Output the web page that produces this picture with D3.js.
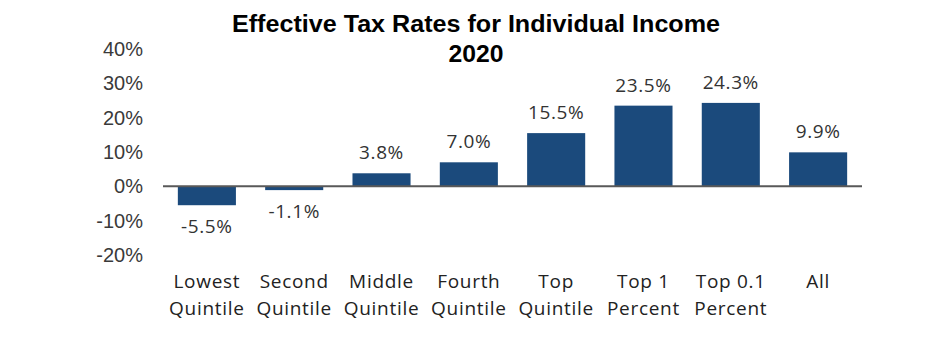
<!DOCTYPE html>
<html>
<head>
<meta charset="utf-8">
<script src="https://cdn.jsdelivr.net/npm/d3@7"></script>
<style>
  body { margin: 0; background: #fff; }
</style>
</head>
<body>
<div id="chart"></div>
<script>
const categories = [
  ["Lowest", "Quintile"], ["Second", "Quintile"], ["Middle", "Quintile"], ["Fourth", "Quintile"],
  ["Top", "Quintile"], ["Top 1", "Percent"], ["Top 0.1", "Percent"], ["All"]
];
const rates = [-5.5, -1.1, 3.8, 7.0, 15.5, 23.5, 24.3, 9.9];
const yTicks = [-20, -10, 0, 10, 20, 30, 40];
const titleLines = ["Effective Tax Rates for Individual Income", "2020"];
const titleWidths = [488, 55];

const width = 952, height = 351;
const barColor = "#1b4a7c";
const labelFont = "'Open Sans', Lato, sans-serif";

const svg = d3.select("#chart").append("svg")
  .attr("width", width)
  .attr("height", height);

// タイトル
svg.append("g").selectAll("text")
  .data(titleLines)
  .join("text")
  .attr("x", 476)
  .attr("y", (d, i) => 32 + i * 30)
  .attr("text-anchor", "middle")
  .attr("textLength", (d, i) => titleWidths[i])
  .attr("lengthAdjust", "spacingAndGlyphs")
  .style("font-family", "'Liberation Sans', Arial, sans-serif")
  .style("font-weight", "bold")
  .style("font-size", "23px")
  .attr("fill", "#000")
  .text(d => d);

// スケール
const keys = categories.map(c => c.join(" "));
const x = d3.scaleBand()
  .domain(keys)
  .range([163, 862])
  .paddingInner(0.335)
  .paddingOuter(0.17);

const y = d3.scaleLinear()
  .domain([-20, 40])
  .range([255, 49]);

// y軸（ラベルのみ）
const yAxis = d3.axisLeft(y)
  .tickValues(yTicks)
  .tickFormat(d => d + "%")
  .tickSize(0)
  .tickPadding(0);

svg.append("g")
  .attr("transform", "translate(143,0)")
  .call(yAxis)
  .call(g => g.select(".domain").remove())
  .selectAll("text")
  .style("font-family", "'Liberation Sans', Arial, sans-serif")
  .style("font-size", "20px")
  .attr("fill", "#3a3a3a");

// 棒
svg.append("g").selectAll("rect")
  .data(rates)
  .join("rect")
  .attr("x", (d, i) => x(keys[i]))
  .attr("width", x.bandwidth())
  .attr("y", d => y(Math.max(0, d)))
  .attr("height", d => Math.abs(y(d) - y(0)))
  .attr("fill", barColor);

// ゼロ線
svg.append("line")
  .attr("x1", x.range()[0])
  .attr("x2", x.range()[1])
  .attr("y1", y(0))
  .attr("y2", y(0))
  .attr("stroke", "#595959")
  .attr("stroke-width", 2);

// 値ラベル
svg.append("g").selectAll("text")
  .data(rates)
  .join("text")
  .attr("x", (d, i) => x(keys[i]) + x.bandwidth() / 2)
  .attr("y", d => d >= 0 ? y(d) - 14 : y(d) + 28)
  .attr("text-anchor", "middle")
  .style("font-family", labelFont)
  .style("font-size", "19px")
  .style("letter-spacing", "0.6px")
  .attr("fill", "#333")
  .text(d => d.toFixed(1) + "%");

// カテゴリラベル
const catG = svg.append("g").selectAll("text")
  .data(categories)
  .join("text")
  .attr("x", (d, i) => x(keys[i]) + x.bandwidth() / 2)
  .attr("y", 288)
  .attr("text-anchor", "middle")
  .style("font-family", labelFont)
  .style("font-size", "19px")
  .style("letter-spacing", "0.7px")
  .attr("fill", "#222");

catG.selectAll("tspan")
  .data(d => d)
  .join("tspan")
  .attr("x", function() { return d3.select(this.parentNode).attr("x"); })
  .attr("dy", (d, i) => i === 0 ? 0 : 27)
  .text(d => d);
</script>
</body>
</html>
